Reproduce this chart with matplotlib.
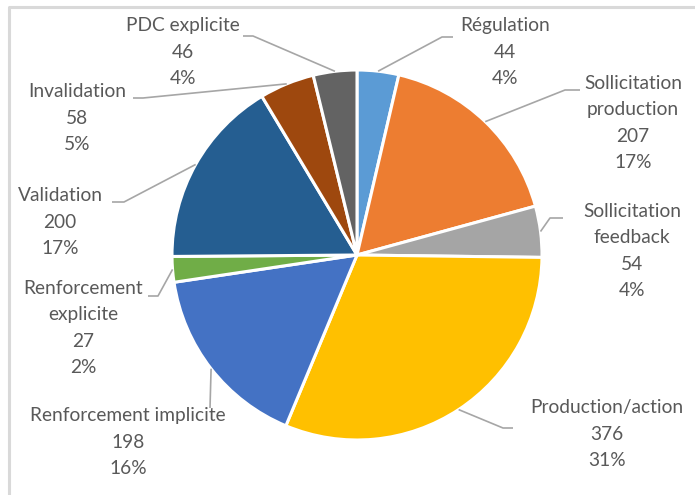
import numpy as np
import matplotlib
matplotlib.use("Agg")
import matplotlib.pyplot as plt

# Data
labels = ["Régulation", "Sollicitation\nproduction", "Sollicitation\nfeedback",
          "Production/action", "Renforcement implicite", "Renforcement\nexplicite",
          "Validation", "Invalidation", "PDC explicite"]
values = [44, 207, 54, 376, 198, 27, 200, 58, 46]
colors = ["#5B9BD5", "#ED7D31", "#A5A5A5", "#FFC000", "#4472C4",
          "#70AD47", "#255E91", "#9E480E", "#636363"]

W, H = 695, 495
# label layout in pixel coords (x, y from top): text centre, leader elbow, leader end
text_pos = [(505, 52), (633, 123), (632, 251), (607, 434), (128, 442),
            (83, 328), (60, 222), (77, 118), (183, 52)]
elbows = [(442, 37), (565, 90), (550, 218), (503, 428), (210, 408),
          (158, 296), (124, 202), (143, 98), (253, 36)]
ends = [(453, 37), (580, 90), (563, 218), (513, 428), (210, 408),
        (148, 296), (112, 202), (133, 98), (243, 36)]

cx, cy, r = 357, 255, 185
text_color = "#595959"
line_color = "#A6A6A6"

fig = plt.figure(figsize=(W / 100, H / 100), dpi=100)
ax = fig.add_axes([0, 0, 1, 1])
ax.axis("off")

# chart frame (only top and left edges visible)
ax.plot([8.5, 8.5, W], [0, H - 7, H - 7], color="#D9D9D9", lw=2.2)

ax.pie(values, colors=colors, startangle=90, counterclock=False,
       center=(cx, H - cy), radius=r,
       wedgeprops=dict(edgecolor="white", linewidth=2.2))
ax.set_xlim(0, W)
ax.set_ylim(0, H)
ax.set_aspect("equal")

total = sum(values)
cum = np.cumsum([0] + values)
for i, (lab, v) in enumerate(zip(labels, values)):
    mid = (cum[i] + v / 2) / total * 2 * np.pi
    px = cx + r * np.sin(mid)
    py = cy - r * np.cos(mid)
    ex, ey = elbows[i]
    nx, ny = ends[i]
    ax.plot([px, ex, nx], [H - py, H - ey, H - ny], color=line_color, lw=1.2,
            solid_capstyle="butt")

    lines = lab.split("\n") + [str(v), f"{round(v / total * 100)}%"]
    tx, ty = text_pos[i]
    n = len(lines)
    step = 26.3
    for k, s in enumerate(lines):
        yy = ty + (k - (n - 1) / 2) * step
        ax.text(tx, H - yy, s, ha="center", va="center", fontsize=13.8,
                family="Lato", color=text_color)

fig.savefig("out.png", dpi=100)
